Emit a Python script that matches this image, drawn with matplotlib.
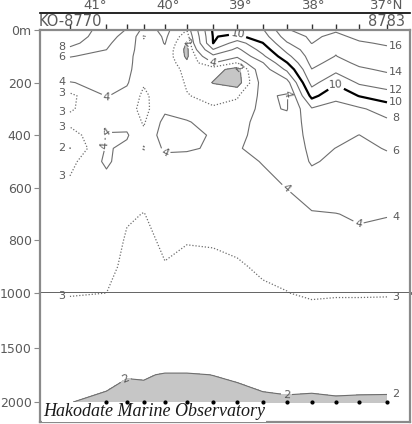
import numpy as np
import matplotlib
matplotlib.use('Agg')
from matplotlib import pyplot as plt
from matplotlib.transforms import offset_copy

# stations of the section, KO-8770 (north) .. 8783 (south)
station_lat = [41.34, 40.84, 40.56, 40.33, 40.04, 39.74, 39.38,
               39.05, 38.70, 38.37, 38.03, 37.70, 37.38, 37.00]
first_station = 'KO-8770'
last_station = '8783'

depth = [0, 25, 50, 75, 100, 125, 150, 200, 250, 300, 350, 400, 450, 500,
         600, 700, 800, 900, 1000, 1250, 1500, 1750, 2000]

# water temperature (deg C) per station
t8770 = [9.6, 9.2, 8.6, 7.5, 6.1, 5.3, 4.8, 3.95, 2.75, 2.9, 3.3, 2.5, 1.98, 2.7,
         3.25, 3.35, 3.3, 3.15, 3.04, 2.72, 2.4, 2.15, 2.01]
t8771 = [7.0, 6.8, 6.4, 6.0, 5.4, 4.9, 4.6, 4.3, 4.05, 3.6, 3.8, 4.05, 4.1, 4.2,
         3.5, 3.35, 3.25, 3.12, 3.0, 2.7, 2.4, 2.15, 1.9]
t8772 = [5.9, 5.3, 4.8, 4.5, 4.4, 4.3, 4.2, 4.1, 3.7, 3.4, 3.7, 4.1, 3.8, 3.4,
         3.2, 3.05, 2.95, 2.9, 2.85, 2.6, 2.3, 2.016, 1.9]
t8773 = [3.5, 2.9, 3.2, 3.4, 3.3, 3.4, 3.5, 3.1, 2.8, 2.7, 2.9, 3.2, 2.95, 3.2,
         3.15, 2.99, 2.9, 2.85, 2.8, 2.6, 2.3, 2.025, 1.9]
t8774 = [4.3, 4.2, 4.05, 3.8, 3.7, 3.8, 3.9, 3.7, 3.6, 3.8, 4.3, 4.5, 4.2, 3.6,
         3.3, 3.15, 3.07, 2.98, 2.9, 2.6, 2.3, 1.98, 1.88]
t8775 = [3.0, 2.4, 1.9, 1.7, 1.8, 2.2, 2.6, 2.9, 3.05, 3.4, 4.1, 4.3, 4.1, 3.7,
         3.3, 3.1, 3.01, 2.95, 2.9, 2.6, 2.3, 1.98, 1.88]
t8776 = [10.3, 10.1, 10.02, 7.9, 5.5, 4.02, 2.4, 1.95, 2.7, 3.1, 3.5, 3.9, 3.9, 3.7,
         3.4, 3.15, 3.02, 2.95, 2.9, 2.6, 2.3, 2.003, 1.9]
t8777 = [10.5, 9.6, 7.0, 5.5, 4.2, 2.95, 1.6, 1.5, 2.9, 3.3, 3.6, 3.8, 3.95, 3.7,
         3.4, 3.2, 3.06, 2.97, 2.92, 2.65, 2.35, 2.04, 1.9]
t8778 = [11.8, 11.0, 9.95, 8.8, 7.6, 5.9, 5.0, 4.5, 4.3, 4.3, 4.4, 4.3, 4.2, 4.05,
         3.7, 3.3, 3.15, 3.04, 2.96, 2.7, 2.4, 2.163, 1.9]
t8779 = [15.9, 15.0, 13.8, 12.6, 11.4, 9.9, 8.4, 5.2, 3.8, 3.9, 4.6, 4.9, 4.8, 4.5,
         4.02, 3.6, 3.35, 3.12, 2.99, 2.75, 2.45, 2.28, 1.9]
t8780 = [16.6, 16.3, 16.05, 15.2, 14.9, 14.6, 13.95, 12.7, 10.6, 7.8, 7.0, 6.6, 6.4, 6.2,
         5.0, 3.85, 3.5, 3.25, 3.08, 2.75, 2.45, 2.21, 1.9]
t8781 = [16.2, 15.6, 14.4, 14.2, 13.95, 13.3, 12.6, 10.3, 8.5, 7.3, 6.7, 6.4, 5.98, 5.6,
         4.8, 3.97, 3.55, 3.3, 3.05, 2.75, 2.5, 2.35, 1.9]
t8782 = [16.8, 16.4, 15.8, 15.3, 14.9, 14.4, 13.7, 12.3, 10.1, 7.7, 6.7, 5.98, 5.6, 5.2,
         4.6, 4.15, 3.75, 3.35, 3.05, 2.75, 2.45, 2.28, 1.9]
t8783 = [17.2, 16.8, 16.2, 15.7, 15.3, 14.8, 14.3, 13.0, 11.1, 8.9, 7.6, 6.8, 6.1, 5.6,
         4.8, 4.05, 3.65, 3.3, 3.05, 2.7, 2.4, 2.26, 1.9]

# deepest observed layer (dots on the bottom line)
bottom_obs = [np.nan, 2000, 2000, 2000, 2000, 2000, 2000,
              2000, 2000, 2000, 2000, 2000, 2000, 2000]

levels = [2, 3, 4, 6, 8, 10, 12, 14, 16]
lat_ticks = [41, 40, 39, 38, 37]
lat_labels = ['41°', '40°', '39°', '38°', '37°N']
upper_ticks = [0, 200, 400, 600, 800]
upper_labels = ['0m', '200', '400', '600', '800']
lower_ticks = [1000, 1500, 2000]
lower_labels = ['1000', '1500', '2000']

temp = np.column_stack([t8770, t8771, t8772, t8773, t8774, t8775, t8776,
                        t8777, t8778, t8779, t8780, t8781, t8782, t8783])

GREY_TXT = '#5a5a5a'
LINE = '#6e6e6e'
FRAME = '#8a8a8a'

fig = plt.figure(figsize=(4.12, 4.24), dpi=100)
ax1 = fig.add_axes([40 / 412, 131 / 424, 370 / 412, 263 / 424])
ax2 = fig.add_axes([40 / 412, 2 / 424, 370 / 412, 129 / 424])

lon_range = (41.75, 36.685)


def style(lev):
    if lev == 10:
        return dict(colors='black', linewidths=1.6, linestyles='solid')
    if lev == 3:
        return dict(colors=LINE, linewidths=0.9, linestyles=[(0, (1, 1.5))])
    return dict(colors=LINE, linewidths=0.8, linestyles='solid')


sets = {}
for ax in (ax1, ax2):
    ax.contourf(station_lat, depth, temp, levels=[-5, 2], colors=['#c6c6c6'])
    sets[ax] = {}
    for lev in levels:
        sets[ax][lev] = ax.contour(station_lat, depth, temp, levels=[lev], **style(lev))
    ax.set_xlim(*lon_range)

ax1.set_ylim(1000, 0)
ax2.set_ylim(2183, 1000)

# inline labels inside the section
lab = dict(inline=True, fontsize=8, colors=GREY_TXT, fmt='%d', inline_spacing=2)
ax1.clabel(sets[ax1][10], manual=[(39.05, 20), (37.67, 180)], **lab)
ax1.clabel(sets[ax1][4], manual=[(40.84, 256), (40.84, 389), (40.84, 439), (39.38, 122),
                                 (38.38, 198), (40.04, 473), (38.38, 603), (37.40, 740)], **lab)
ax1.clabel(sets[ax1][2], manual=[(39.70, 45), (39.05, 150)], **lab)
ax2.clabel(sets[ax2][2], manual=[(40.59, 1780), (38.38, 1954)], **lab)


# labels at the ends of the section, where each isotherm leaves it
def edge_labels(profile, lat, dx):
    for lev in levels:
        prev = None
        for k in range(len(depth) - 1):
            a, b = profile[k] - lev, profile[k + 1] - lev
            if a * b < 0 or (a == 0 and k > 0):
                d = depth[k] + (depth[k + 1] - depth[k]) * a / (a - b)
                if prev is not None and d - prev < 25:
                    continue
                prev = d
                ax = ax1 if d <= 1000 else ax2
                tr = offset_copy(ax.transData, fig=fig, x=dx, y=0, units='dots')
                ax.text(lat, d, str(lev), transform=tr, ha='center', va='center',
                        fontsize=8, color=GREY_TXT, clip_on=False)


edge_labels(t8770, station_lat[0], -8)
edge_labels(t8783, station_lat[-1], 9)

ax2.scatter(station_lat, bottom_obs, s=4, color='black', zorder=6, clip_on=False)

# axes cosmetics
for ax in (ax1, ax2):
    for s in ax.spines.values():
        s.set_color(FRAME)
        s.set_linewidth(1.6)
    ax.tick_params(axis='y', length=4, color=FRAME, labelcolor=GREY_TXT,
                   labelsize=9, pad=2)

ax1.spines['bottom'].set_color('#555555')
ax1.spines['bottom'].set_linewidth(2)
ax2.spines['top'].set_visible(False)

ax1.set_yticks(upper_ticks)
ax1.set_yticklabels(upper_labels)
ax2.set_yticks(lower_ticks)
ax2.set_yticklabels(lower_labels)
ax2.set_xticks([])

ax1.xaxis.tick_top()
ax1.set_xticks(station_lat)
ax1.set_xticklabels([])
ax1.tick_params(axis='x', length=4, width=1, color='#333333', direction='out')

sec = ax1.secondary_xaxis(1.0 + 17 / 263)
sec.set_xticks(lat_ticks)
sec.set_xticklabels(lat_labels)
sec.tick_params(length=0, pad=1, labelsize=9.5, labelcolor=GREY_TXT)
sec.spines['top'].set_color('black')
sec.spines['top'].set_linewidth(1.2)

for name, lat in ((first_station, station_lat[0]), (last_station, station_lat[-1])):
    ax1.annotate(name, xy=(lat, 1.0), xycoords=('data', 'axes fraction'),
                 xytext=(0, 8), textcoords='offset pixels', ha='center', va='center',
                 fontsize=10.5, color=GREY_TXT)

ax2.text(43 / 412, 12 / 424, 'Hakodate Marine Observatory', transform=fig.transFigure,
         family='Liberation Serif', style='italic', fontsize=13, color='#1a1a1a',
         ha='left', va='center', zorder=5,
         bbox=dict(facecolor='white', edgecolor='none', pad=1.0))

fig.savefig('out.png', dpi=100)
